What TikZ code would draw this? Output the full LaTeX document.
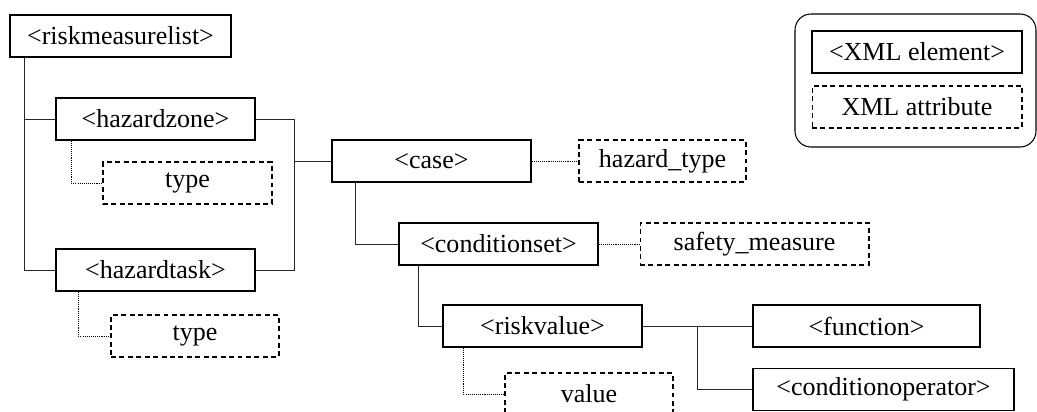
\documentclass[tikz,border=0pt]{standalone}
\usepackage{fontspec}
\setmainfont{Liberation Serif}
\begin{document}
\begin{tikzpicture}[x=0.02cm, y=-0.02cm,
    elem/.style={draw, line width=0.7pt, minimum height=0.84cm, inner sep=0pt, font=\fontsize{14.8}{16}\selectfont},
    attr/.style={elem, line width=0.6pt, dash pattern=on 2.8pt off 2pt},
    tree/.style={line width=0.5pt, black!85},
    link/.style={line width=0.5pt, black, dash pattern=on 0.6pt off 0.6pt}]
    \useasboundingbox (0,0) rectangle (1037,412);
    % 元素
    \node[elem, minimum width=4.42cm] (rml) at (120.5,36) {<riskmeasurelist>};
    \node[elem, minimum width=3.98cm] (hzone) at (155.5,119) {<hazardzone>};
    \node[elem, minimum width=3.98cm] (htask) at (155.5,270) {<hazardtask>};
    \node[elem, minimum width=3.98cm] (case) at (431.5,161) {<case>};
    \node[elem, minimum width=3.98cm] (cset) at (498.5,244) {<conditionset>};
    \node[elem, minimum width=3.98cm] (rvalue) at (542.5,326) {<riskvalue>};
    \node[elem, minimum width=4.54cm] (func) at (866.5,326) {<function>};
    \node[elem, minimum width=5.22cm] (condop) at (883.5,389.5) {<conditionoperator>};
    % 属性
    \node[attr, minimum width=3.38cm] (ztype) at (187.5,183) {type};
    \node[attr, minimum width=3.36cm] (ttype) at (195,336) {type};
    \node[attr, minimum width=3.34cm] (htype) at (662.5,161) {hazard\_type};
    \node[attr, minimum width=4.58cm] (smeasure) at (754.5,244) {safety\_measure};
    \node[attr, minimum width=3.36cm] (value) at (589,394) {value};
    % 树形连线
    \coordinate (cj) at (294,161);
    \coordinate (fj) at (697,326);
    \draw[tree] ([xshift=0.3cm]rml.south west) |- (hzone.west);
    \draw[tree] ([xshift=0.3cm]rml.south west) |- (htask.west);
    \draw[tree] (hzone.east) -| (cj);
    \draw[tree] (htask.east) -| (cj);
    \draw[tree] (cj) -- (case.west);
    \draw[tree] ([xshift=0.48cm]case.south west) |- (cset.west);
    \draw[tree] ([xshift=0.4cm]cset.south west) |- (rvalue.west);
    \draw[tree] (rvalue.east) -- (func.west);
    \draw[tree] (fj) |- (condop.west);
    % 属性连线
    \draw[link] ([xshift=0.32cm]hzone.south west) |- (ztype.west);
    \draw[link] ([xshift=0.46cm]htask.south west) |- (ttype.west);
    \draw[link] ([xshift=0.42cm]rvalue.south west) |- (value.west);
    \draw[link] (case.east) -- (htype.west);
    \draw[link] (cset.east) -- (smeasure.west);
    % 图例
    \draw[line width=0.6pt, rounded corners=0.32cm] (795,14) rectangle (1036,147);
    \node[elem, minimum width=4.2cm] (lelem) at (917,52) {<XML element>};
    \node[attr, minimum width=4.2cm] (lattr) at (917,107) {XML attribute};
\end{tikzpicture}
\end{document}
